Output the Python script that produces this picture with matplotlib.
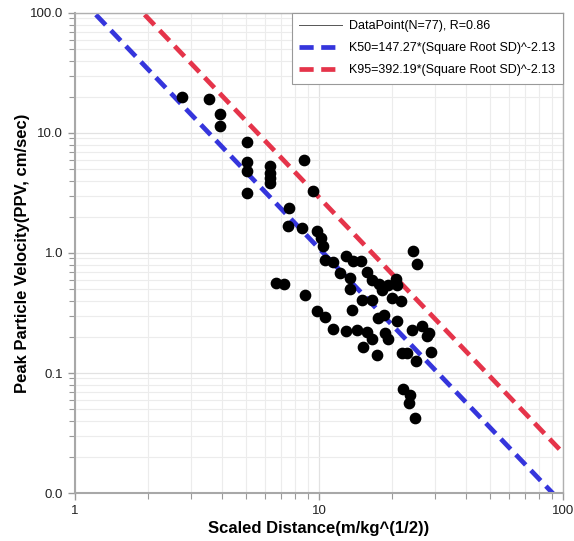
import matplotlib.pyplot as plt
import numpy as np
from matplotlib.lines import Line2D
from matplotlib.ticker import FixedLocator, LogLocator, NullFormatter

plt.rcParams['font.family'] = ['Liberation Sans', 'DejaVu Sans']

# scaled distance (m/kg^0.5) and PPV (cm/sec)
sd = [2.75, 3.54, 3.93, 3.93, 5.07, 5.07, 5.07, 5.07, 6.30, 6.30, 6.30, 6.30,
      7.53, 7.46, 8.68, 9.45, 8.51, 9.81, 10.2, 10.4, 10.6, 11.4, 12.2, 12.9,
      13.8, 14.9, 15.7, 16.5, 17.6, 18.1, 19.2, 20.7, 20.9, 13.4, 13.4, 15.0,
      16.5, 19.9, 21.7, 24.3, 25.2, 6.67, 7.19, 8.76, 9.81, 10.6, 13.7, 11.4,
      12.9, 14.3, 15.7, 16.5, 15.1, 17.3, 17.5, 18.5, 20.9, 18.6, 19.2, 24.0,
      26.4, 27.7, 28.2, 21.9, 22.9, 25.0, 28.8, 22.1, 23.6, 23.4, 24.7]
ppv = [19.95, 19.2, 14.4, 11.4, 8.41, 5.73, 4.82, 3.16, 5.31, 4.64, 4.22, 3.83,
       2.37, 1.68, 5.96, 3.29, 1.62, 1.52, 1.33, 1.14, 0.874, 0.841, 0.681, 0.944,
       0.858, 0.858, 0.695, 0.596, 0.552, 0.492, 0.541, 0.608, 0.541, 0.501, 0.619, 0.406,
       0.406, 0.422, 0.398, 1.04, 0.810, 0.562, 0.552, 0.447, 0.329, 0.293, 0.335, 0.233,
       0.224, 0.228, 0.220, 0.192, 0.165, 0.141, 0.287, 0.304, 0.271, 0.215, 0.192, 0.228,
       0.246, 0.203, 0.215, 0.147, 0.147, 0.126, 0.150, 0.0736, 0.0656, 0.0562, 0.0422]

k50, k95, expo = 147.27, 392.19, -2.13
labels = ['DataPoint(N=77), R=0.86',
          'K50=147.27*(Square Root SD)^-2.13',
          'K95=392.19*(Square Root SD)^-2.13']

fig = plt.figure(figsize=(5.74, 5.41), dpi=100)
ax = fig.add_axes([0.1307, 0.0887, 0.8502, 0.8873])

xs = np.logspace(0, 2, 200)
ax.plot(xs, k50 * xs ** expo, color='#3535dc', lw=3.4, dashes=(3, 1.6), zorder=2)
ax.plot(xs, k95 * xs ** expo, color='#e5344a', lw=3.4, dashes=(3, 1.6), zorder=2)
ax.scatter(sd, ppv, s=55, color='black', zorder=3)

ax.set_xscale('log')
ax.set_yscale('log')
ax.set_xlim(1, 100)
ax.set_ylim(0.01, 100)

ax.yaxis.set_major_locator(FixedLocator([0.01, 0.1, 1, 10, 100]))
ax.set_yticklabels(['0.0', '0.1', '1.0', '10.0', '100.0'])
ax.xaxis.set_major_locator(FixedLocator([1, 10, 100]))
ax.set_xticklabels(['1', '10', '100'])
ax.xaxis.set_minor_locator(LogLocator(base=10, subs=np.arange(2, 10)))
ax.yaxis.set_minor_locator(LogLocator(base=10, subs=np.arange(2, 10)))
ax.xaxis.set_minor_formatter(NullFormatter())
ax.yaxis.set_minor_formatter(NullFormatter())

ax.grid(which='major', color='#e2e2e2', lw=0.9)
ax.grid(which='minor', color='#ececec', lw=0.8)
ax.set_axisbelow(True)
ax.tick_params(which='both', colors='#9a9a9a', labelcolor='#222222', labelsize=9.5,
               direction='out')
ax.tick_params(which='major', length=5, width=1)
ax.tick_params(which='minor', length=4, width=0.8)
for s in ['left', 'bottom']:
    ax.spines[s].set_color('#a8a8a8')
    ax.spines[s].set_linewidth(1.5)
for s in ['top', 'right']:
    ax.spines[s].set_color('#b0b0b0')
    ax.spines[s].set_linewidth(1.0)

ax.set_xlabel('Scaled Distance(m/kg^(1/2))', fontsize=12, fontweight='bold', labelpad=3)
ax.set_ylabel('Peak Particle Velocity(PPV, cm/sec)', fontsize=12, fontweight='bold', labelpad=0)

handles = [Line2D([], [], color='#555555', lw=0.7),
           Line2D([], [], color='#3535dc', lw=3.4, dashes=(3, 1.6)),
           Line2D([], [], color='#e5344a', lw=3.4, dashes=(3, 1.6))]
leg = ax.legend(handles, labels, loc='upper right', fontsize=9.0, fancybox=False,
                borderaxespad=0, handlelength=3.4, handletextpad=0.6, framealpha=1,
                labelspacing=0.8, borderpad=0.6)
leg.get_frame().set_edgecolor('#999999')
leg.get_frame().set_linewidth(0.8)

fig.savefig('out.png', dpi=100)
